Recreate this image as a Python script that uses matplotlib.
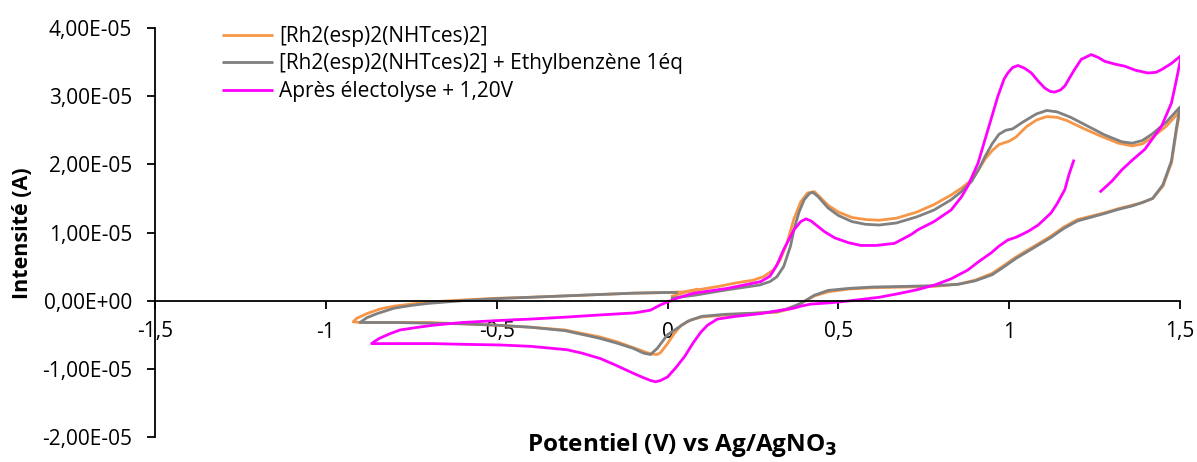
import matplotlib
matplotlib.use("Agg")
import matplotlib.pyplot as plt
from matplotlib.ticker import FuncFormatter, MultipleLocator

plt.rcParams['font.family'] = ['Open Sans', 'DejaVu Sans']

# Series values: potential (V) and current (in units of 1e-5 A)
orange_label = "[Rh2(esp)2(NHTces)2]"
orange_v = [0.01, 0.05, 0.09, 0.15, 0.2, 0.25, 0.28, 0.31, 0.33, 0.35, 0.37, 0.39, 0.41, 0.43, 0.45,
            0.47, 0.5, 0.54, 0.58, 0.62, 0.67, 0.73, 0.78, 0.83, 0.86, 0.89, 0.91, 0.93, 0.95, 0.97,
            1.0, 1.02, 1.05, 1.08, 1.11, 1.14, 1.17, 1.22, 1.27, 1.32, 1.36, 1.39, 1.42, 1.46, 1.5,
            1.49, 1.475, 1.45, 1.42, 1.39, 1.36, 1.32, 1.28, 1.2, 1.16, 1.12, 1.07, 1.02, 0.98, 0.95,
            0.9, 0.85, 0.78, 0.7, 0.6, 0.53, 0.47, 0.43, 0.39, 0.36, 0.32, 0.27, 0.17, 0.1, 0.07,
            0.04, 0.02, 0.0, -0.02, -0.03, -0.05, -0.1, -0.15, -0.2, -0.3, -0.4, -0.5, -0.6, -0.7,
            -0.8, -0.9, -0.92, -0.91, -0.88, -0.84, -0.8, -0.7, -0.6, -0.5, -0.4, -0.3, -0.2, -0.1,
            0.0, 0.05, 0.09]
orange_i = [0.06, 0.12, 0.16, 0.21, 0.26, 0.30, 0.35, 0.45, 0.6, 0.85, 1.2, 1.45, 1.58, 1.6, 1.5,
            1.4, 1.3, 1.22, 1.19, 1.18, 1.21, 1.3, 1.41, 1.55, 1.65, 1.77, 1.92, 2.08, 2.2, 2.29,
            2.34, 2.4, 2.55, 2.65, 2.7, 2.69, 2.64, 2.52, 2.41, 2.31, 2.27, 2.3, 2.4, 2.56, 2.78,
            2.5, 2.02, 1.68, 1.5, 1.44, 1.4, 1.35, 1.29, 1.19, 1.08, 0.94, 0.79, 0.64, 0.5, 0.4,
            0.3, 0.24, 0.21, 0.2, 0.19, 0.17, 0.13, 0.07, -0.04, -0.12, -0.17, -0.18, -0.21, -0.24, -0.28,
            -0.36, -0.48, -0.63, -0.76, -0.79, -0.78, -0.69, -0.6, -0.53, -0.43, -0.39, -0.36, -0.34, -0.32,
            -0.32, -0.32, -0.31, -0.26, -0.19, -0.12, -0.08, -0.02, 0.01, 0.035, 0.05, 0.07, 0.09, 0.11,
            0.12, 0.13, 0.17]

gray_label = "[Rh2(esp)2(NHTces)2] + Ethylbenzène 1éq"
gray_v = [0.01, 0.08, 0.175, 0.27, 0.3, 0.32, 0.34, 0.35, 0.36, 0.37, 0.385, 0.4, 0.415, 0.425, 0.44,
          0.47, 0.5, 0.54, 0.58, 0.62, 0.67, 0.73, 0.78, 0.83, 0.86, 0.89, 0.91, 0.93, 0.95, 0.97,
          0.99, 1.01, 1.04, 1.08, 1.11, 1.14, 1.18, 1.23, 1.28, 1.33, 1.36, 1.39, 1.42, 1.46, 1.5,
          1.49, 1.475, 1.45, 1.42, 1.39, 1.36, 1.32, 1.28, 1.2, 1.16, 1.12, 1.07, 1.02, 0.98, 0.95,
          0.9, 0.85, 0.78, 0.7, 0.6, 0.53, 0.47, 0.43, 0.39, 0.35, 0.32, 0.27, 0.17, 0.1, 0.06,
          0.03, 0.0, -0.03, -0.05, -0.07, -0.1, -0.15, -0.2, -0.3, -0.4, -0.5, -0.6, -0.7, -0.8,
          -0.9, -0.88, -0.85, -0.8, -0.75, -0.7, -0.6, -0.5, -0.4, -0.3, -0.2, -0.1, 0.0, 0.03]
gray_i = [0.035, 0.08, 0.16, 0.23, 0.28, 0.35, 0.5, 0.65, 0.8, 1.04, 1.3, 1.48, 1.57, 1.59, 1.53,
          1.36, 1.25, 1.16, 1.12, 1.11, 1.14, 1.23, 1.33, 1.48, 1.6, 1.75, 1.92, 2.12, 2.3, 2.44,
          2.5, 2.52, 2.62, 2.74, 2.79, 2.77, 2.69, 2.56, 2.43, 2.33, 2.31, 2.35, 2.45, 2.62, 2.84,
          2.55, 2.05, 1.7, 1.5, 1.44, 1.39, 1.34, 1.28, 1.17, 1.06, 0.92, 0.77, 0.62, 0.48, 0.38,
          0.29, 0.24, 0.22, 0.21, 0.2, 0.18, 0.15, 0.08, -0.04, -0.12, -0.16, -0.18, -0.2, -0.23, -0.3,
          -0.4, -0.5, -0.7, -0.79, -0.77, -0.7, -0.62, -0.55, -0.44, -0.39, -0.36, -0.34, -0.33, -0.32,
          -0.32, -0.25, -0.19, -0.11, -0.07, -0.04, 0.0, 0.03, 0.05, 0.07, 0.09, 0.11, 0.12, 0.12]

magenta_label = "Après électolyse + 1,20V"
magenta_v = [1.19, 1.175, 1.163, 1.14, 1.123, 1.1, 1.085, 1.06, 1.045, 1.02, 0.996, 0.97, 0.947, 0.91,
             0.879, 0.83, 0.782, 0.73, 0.683, 0.62, 0.537, 0.48, 0.42, 0.39, 0.37, 0.32, 0.273, 0.2,
             0.146, 0.117, 0.098, 0.075, 0.05, 0.025, 0.0, -0.02, -0.035, -0.05, -0.075, -0.098, -0.15,
             -0.196, -0.25, -0.294, -0.4, -0.49, -0.6, -0.685, -0.8, -0.866,
             -0.855, -0.842, -0.81, -0.783, -0.73, -0.685, -0.6, -0.49, -0.4, -0.294, -0.2, -0.098,
             -0.05, -0.02, 0.01, 0.03, 0.077, 0.175, 0.273, 0.3, 0.32, 0.34, 0.37, 0.39, 0.405, 0.42,
             0.44, 0.46, 0.49, 0.53, 0.566, 0.61, 0.664, 0.713, 0.733, 0.78, 0.83, 0.86, 0.879, 0.909,
             0.938, 0.967, 0.985, 0.996, 1.01, 1.026, 1.045, 1.065, 1.085, 1.104, 1.12, 1.133, 1.15,
             1.163, 1.19, 1.211, 1.24, 1.26, 1.28, 1.31, 1.338, 1.37, 1.406, 1.43, 1.446, 1.475, 1.504,
             1.49, 1.475, 1.446, 1.42, 1.397, 1.36, 1.33, 1.3, 1.265]
magenta_i = [2.07, 1.85, 1.63, 1.42, 1.29, 1.18, 1.11, 1.03, 0.99, 0.93, 0.89, 0.8, 0.7, 0.57,
             0.45, 0.32, 0.23, 0.16, 0.11, 0.05, 0.0, -0.03, -0.05, -0.08, -0.11, -0.15, -0.19, -0.23,
             -0.27, -0.36, -0.46, -0.62, -0.82, -0.98, -1.12, -1.17, -1.19, -1.17, -1.12, -1.07, -0.95,
             -0.85, -0.77, -0.72, -0.67, -0.65, -0.64, -0.63, -0.63, -0.63,
             -0.59, -0.55, -0.48, -0.43, -0.39, -0.36, -0.32, -0.29, -0.27, -0.24, -0.21, -0.18,
             -0.14, -0.06, 0.0, 0.04, 0.11, 0.18, 0.28, 0.36, 0.52, 0.75, 1.04, 1.16, 1.2, 1.17,
             1.09, 1.01, 0.92, 0.85, 0.81, 0.81, 0.84, 0.97, 1.04, 1.16, 1.33, 1.52, 1.68, 2.02,
             2.51, 3.0, 3.25, 3.34, 3.42, 3.45, 3.41, 3.34, 3.22, 3.12, 3.07, 3.06, 3.09,
             3.15, 3.38, 3.54, 3.61, 3.57, 3.51, 3.47, 3.44, 3.38, 3.34, 3.35, 3.39, 3.48, 3.6,
             3.25, 2.9, 2.56, 2.38, 2.22, 2.06, 1.92, 1.75, 1.59]

CURRENT_UNIT = 1e-5  # values above are in units of 1e-5 A

x_label = "Potentiel (V) vs Ag/AgNO$_\\mathbf{3}$"
y_label = "Intensité (A)"

FS = 15
W, H = 1197, 462
fig = plt.figure(figsize=(W / 100, H / 100), dpi=100)
ax = fig.add_axes([155 / W, 1 - 437 / H, (1180 - 155) / W, (437 - 28) / H])

series = [
    (orange_v, orange_i, orange_label, "#F79646"),
    (gray_v, gray_i, gray_label, "#808080"),
    (magenta_v, magenta_i, magenta_label, "#FF00FF"),
]
for v, i, lab, col in series:
    ax.plot(v, [c * CURRENT_UNIT for c in i], color=col, lw=2.0, label=lab,
            solid_joinstyle='round', solid_capstyle='butt')

ax.set_xlim(-1.5, 1.5)
ax.set_ylim(-2e-5, 4e-5)
ax.xaxis.set_major_locator(MultipleLocator(0.5))
ax.yaxis.set_major_locator(MultipleLocator(1e-5))
ax.xaxis.set_major_formatter(FuncFormatter(lambda v, p: ('%g' % round(v, 3)).replace('.', ',')))
ax.yaxis.set_major_formatter(FuncFormatter(lambda v, p: ('%.2E' % v).replace('.', ',')))

for s in ['top', 'right']:
    ax.spines[s].set_visible(False)
ax.spines['bottom'].set_position(('data', 0))
ax.spines['left'].set_linewidth(1.3)
ax.spines['bottom'].set_linewidth(1.3)
ax.tick_params(axis='both', direction='out', length=5.5, width=1.3, labelsize=FS, colors='black')
ax.tick_params(axis='x', pad=9.5)
ax.tick_params(axis='y', pad=11)

fig.text(682 / W, 1 - 445 / H, x_label, ha='center', va='center', fontsize=17.5, fontweight='bold')
fig.text(23 / W, 1 - 233 / H, y_label, ha='center', va='center', rotation=90, fontsize=15.5,
         fontweight='bold')

leg = ax.legend(loc='upper left', bbox_to_anchor=(222 / W, 1 - 26 / H), bbox_transform=fig.transFigure,
                frameon=False, fontsize=FS, borderpad=0, borderaxespad=0, handlelength=2.45,
                handletextpad=0.28, labelspacing=0.31)

fig.savefig("out.png", dpi=100)
